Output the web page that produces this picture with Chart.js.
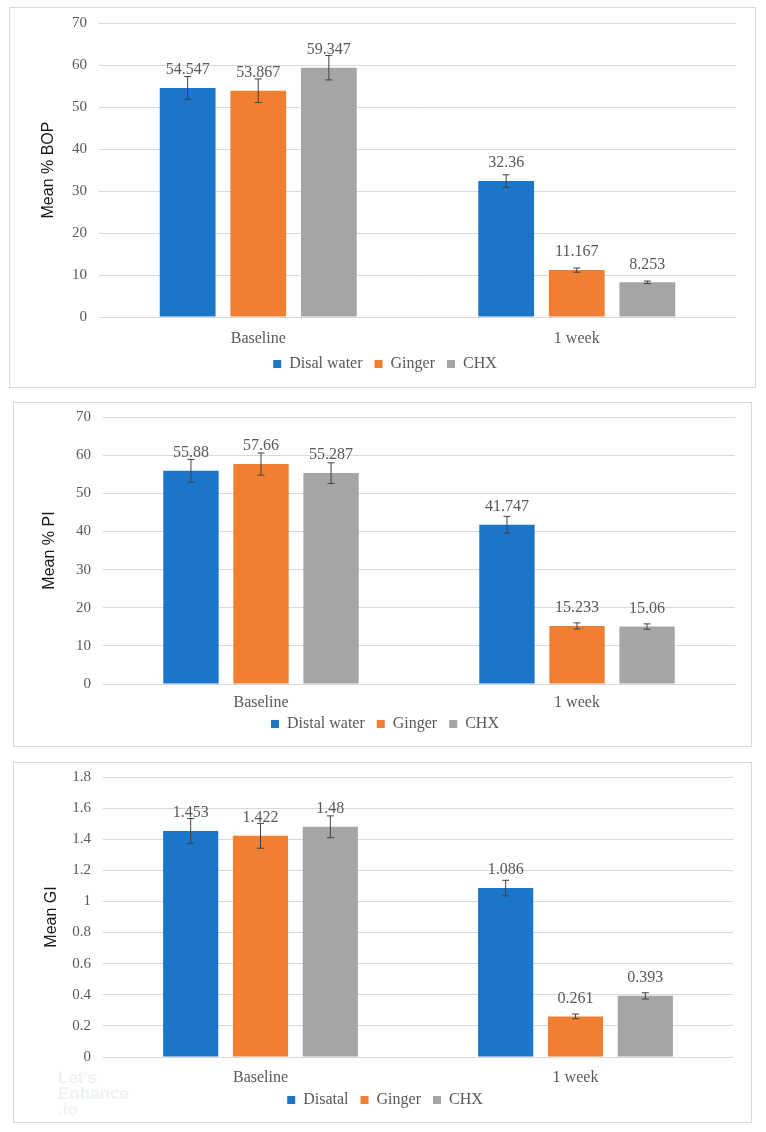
<!DOCTYPE html>
<html>
<head>
<meta charset="utf-8">
<script src="https://cdn.jsdelivr.net/npm/chart.js@4/dist/chart.umd.min.js"></script>
<style>
  body { margin: 0; background: #fff; }
  .box { position: absolute; border: 1px solid #d9d9d9; background: #fff; }
  .box canvas { display: block; }
  .wm { position: absolute; left: 58px; top: 1070px; font: bold 17px "Liberation Sans", sans-serif; color: #eff2f7; line-height: 16px; }
</style>
</head>
<body>
<div class="box" style="left:9px; top:7px; width:745px; height:379px"><canvas id="bop"></canvas></div>
<div class="box" style="left:13px; top:402px; width:737px; height:343px"><canvas id="pi"></canvas></div>
<div class="box" style="left:13px; top:762px; width:737px; height:359px"><canvas id="gi"></canvas></div>
<div class="wm">Let's<br>Enhance<br>.io</div>
<script>
const categories = ['Baseline', '1 week']
const seriesNames = ['Disal water', 'Ginger', 'CHX']
const seriesNamesPI = ['Distal water', 'Ginger', 'CHX']
const seriesNamesGI = ['Disatal', 'Ginger', 'CHX']
const colors = ['#1b75c9', '#f07f32', '#a5a5a5']

// % BOP
const bopWater = [54.547, 32.36]
const bopGinger = [53.867, 11.167]
const bopChx = [59.347, 8.253]
const bopWaterErr = [2.7, 1.5]
const bopGingerErr = [2.8, 0.5]
const bopChxErr = [2.9, 0.3]

// % PI
const piWater = [55.88, 41.747]
const piGinger = [57.66, 15.233]
const piChx = [55.287, 15.06]
const piWaterErr = [3.0, 2.2]
const piGingerErr = [2.9, 0.8]
const piChxErr = [2.7, 0.7]

// GI
const giWater = [1.453, 1.086]
const giGinger = [1.422, 0.261]
const giChx = [1.48, 0.393]
const giWaterErr = [0.08, 0.05]
const giGingerErr = [0.08, 0.015]
const giChxErr = [0.07, 0.02]

const serif = '"Liberation Serif", "Times New Roman", serif'
const grey = '#595959'

// error bars + value labels (no datalabels plugin available)
const barExtras = {
    id: 'barExtras',
    afterDatasetsDraw(chart) {
        const ctx = chart.ctx
        const y = chart.scales.y
        chart.data.datasets.forEach((ds, i) => {
            const meta = chart.getDatasetMeta(i)
            meta.data.forEach((bar, j) => {
                const v = ds.data[j]
                const e = ds.errors[j]
                const top = y.getPixelForValue(v + e)
                const bottom = y.getPixelForValue(v - e)
                ctx.save()
                ctx.strokeStyle = '#404040'
                ctx.lineWidth = 1
                ctx.beginPath()
                ctx.moveTo(bar.x, top)
                ctx.lineTo(bar.x, bottom)
                ctx.moveTo(bar.x - 3.5, top)
                ctx.lineTo(bar.x + 3.5, top)
                ctx.moveTo(bar.x - 3.5, bottom)
                ctx.lineTo(bar.x + 3.5, bottom)
                ctx.stroke()
                ctx.fillStyle = grey
                ctx.font = '16px ' + serif
                ctx.textAlign = 'center'
                ctx.textBaseline = 'middle'
                ctx.fillText(String(v), bar.x, bar.y - 18)
                ctx.restore()
            })
        })
    }
}

function makeChart(id, o) {
    const datasets = o.values.map((vals, i) => ({
        label: o.names[i],
        data: vals,
        errors: o.errors[i],
        backgroundColor: colors[i],
        categoryPercentage: 0.665,
        barPercentage: 0.79
    }))

    const config = {
        type: 'bar',
        plugins: [barExtras],
        data: { labels: categories, datasets },
        options: {
            responsive: true,
            maintainAspectRatio: false,
            animation: false,
            layout: { padding: { top: o.padTop, right: o.padRight, bottom: o.padBottom, left: o.padLeft } },
            scales: {
                x: {
                    grid: { display: false, drawTicks: false },
                    border: { display: false },
                    ticks: { color: grey, font: { family: serif, size: 16 }, padding: o.xPad },
                    afterFit(scale) {
                        scale.height = o.xHeight
                        // labels would otherwise be clipped to the short axis band
                        scale._computeLabelArea = () => undefined
                    }
                },
                y: {
                    min: 0,
                    max: o.max,
                    ticks: {
                        stepSize: o.step,
                        color: grey,
                        font: { family: serif, size: 15 },
                        padding: 12,
                        callback: value => String(Number(value.toFixed(1)))
                    },
                    grid: { color: '#d9d9d9', drawTicks: false },
                    border: { display: false },
                    title: {
                        display: true,
                        text: o.title,
                        color: '#1a1a1a',
                        font: { family: '"Liberation Sans", Arial, sans-serif', size: 16 },
                        padding: { top: o.titlePad, bottom: 0 }
                    },
                    afterFit(scale) {
                        scale.width = o.yWidth
                        scale.paddingTop = 0
                        scale.paddingBottom = 0
                    }
                }
            },
            plugins: {
                legend: {
                    position: 'bottom',
                    labels: {
                        boxWidth: 8,
                        boxHeight: 8,
                        color: grey,
                        font: { family: serif, size: 16 },
                        padding: 12
                    }
                },
                tooltip: { enabled: false }
            }
        }
    }
    new Chart(document.getElementById(id), config)
}

makeChart('bop', {
    names: seriesNames,
    values: [bopWater, bopGinger, bopChx],
    errors: [bopWaterErr, bopGingerErr, bopChxErr],
    max: 70, step: 10, title: 'Mean % BOP',
    padTop: 15, padRight: 19, padBottom: 5, padLeft: 24, yWidth: 65, titlePad: 5,
    xHeight: 27, xPad: 12
})

makeChart('pi', {
    names: seriesNamesPI,
    values: [piWater, piGinger, piChx],
    errors: [piWaterErr, piGingerErr, piChxErr],
    max: 70, step: 10, title: 'Mean % PI',
    padTop: 14, padRight: 16, padBottom: 4, padLeft: 21, yWidth: 68, titlePad: 5,
    xHeight: 20, xPad: 9
})

makeChart('gi', {
    names: seriesNamesGI,
    values: [giWater, giGinger, giChx],
    errors: [giWaterErr, giGingerErr, giChxErr],
    max: 1.8, step: 0.2, title: 'Mean GI',
    padTop: 14, padRight: 18, padBottom: 4, padLeft: 23, yWidth: 66, titlePad: 5,
    xHeight: 23, xPad: 11
})
</script>
</body>
</html>
